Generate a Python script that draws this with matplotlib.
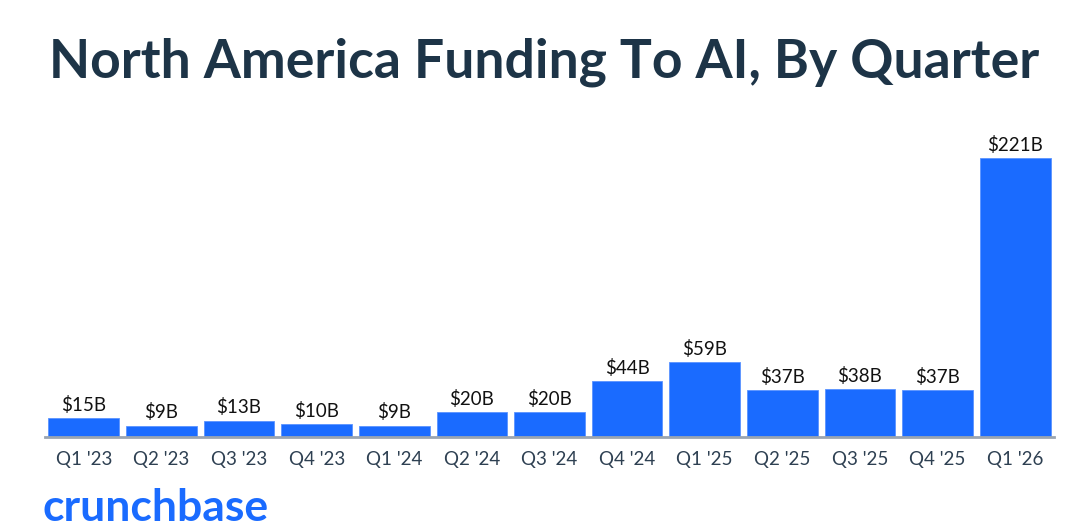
import matplotlib.pyplot as plt

# --- Data ---
quarters = ["Q1 '23", "Q2 '23", "Q3 '23", "Q4 '23", "Q1 '24", "Q2 '24", "Q3 '24",
            "Q4 '24", "Q1 '25", "Q2 '25", "Q3 '25", "Q4 '25", "Q1 '26"]
funding_b = [15, 9, 13, 10, 9, 20, 20, 44, 59, 37, 38, 37, 221]
value_labels = ["$15B", "$9B", "$13B", "$10B", "$9B", "$20B", "$20B",
                "$44B", "$59B", "$37B", "$38B", "$37B", "$221B"]

title_text = "North America Funding To AI, By Quarter"
brand_text = "crunchbase"

BAR_COLOR = '#1a6bff'
TITLE_COLOR = '#1d3447'
TICK_COLOR = '#2e4052'
AXIS_COLOR = '#9aa5b1'

plt.rcParams['font.family'] = ['Lato', 'DejaVu Sans']

fig = plt.figure(figsize=(10.88, 5.32), dpi=100)
ax = fig.add_axes([45 / 1088, 95 / 532, 1009 / 1088, 317 / 532])

x = range(len(quarters))
bars = ax.bar(x, funding_b, width=0.91, color=BAR_COLOR, edgecolor='#5a93ff', linewidth=0.6)

for rect, lab in zip(bars, value_labels):
    ax.annotate(lab, (rect.get_x() + rect.get_width() / 2, rect.get_height()),
                xytext=(0, 3), textcoords='offset points', ha='center', va='bottom',
                fontsize=13.5, color='#111111')

ax.set_xlim(-0.5, len(quarters) - 0.5)
ax.set_ylim(0, 251)
ax.set_xticks(list(x))
ax.set_xticklabels(quarters, fontsize=13.5, color=TICK_COLOR)
ax.tick_params(axis='x', length=0, pad=10)
ax.set_yticks([])
for side in ['top', 'right', 'left']:
    ax.spines[side].set_visible(False)
ax.spines['bottom'].set_color(AXIS_COLOR)
ax.spines['bottom'].set_linewidth(2)

fig.text(0.5, 1 - 62 / 532, title_text, ha='center', va='center',
         fontsize=38.5, fontweight='bold', color=TITLE_COLOR)
fig.text(42 / 1088, 1 - 508 / 532, brand_text, ha='left', va='center',
         fontsize=32, fontweight='bold', color=BAR_COLOR)

fig.savefig('out.png', dpi=100)
